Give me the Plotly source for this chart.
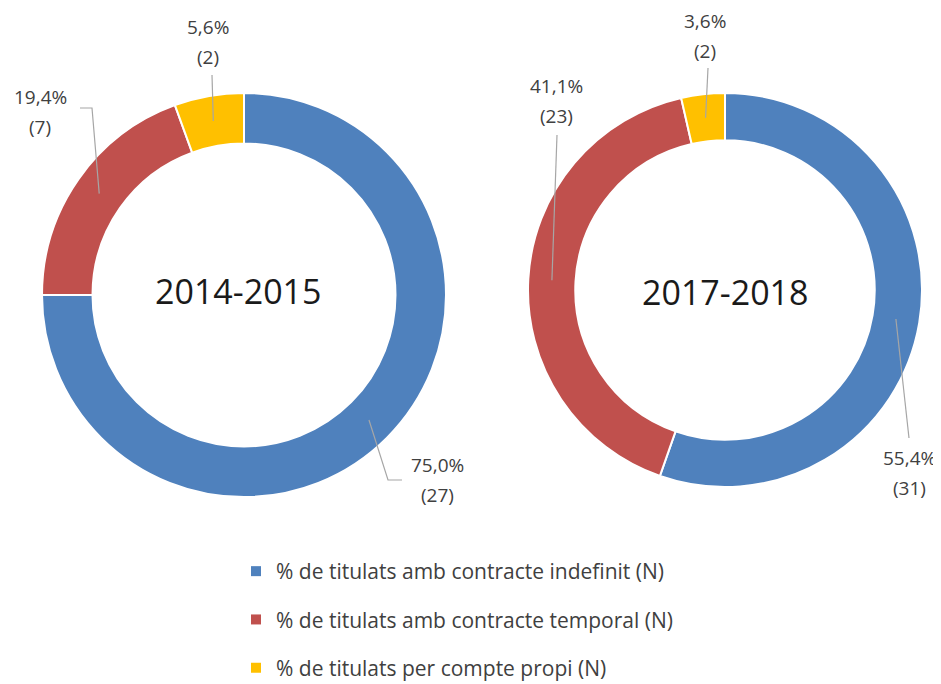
import math
import plotly.graph_objects as go

# ---------------- data ----------------
categories = [
    "% de titulats amb contracte indefinit (N)",
    "% de titulats amb contracte temporal (N)",
    "% de titulats per compte propi (N)",
]
periods = ["2014-2015", "2017-2018"]
values_2014_2015 = [27, 7, 2]
values_2017_2018 = [31, 23, 2]
series = [values_2014_2015, values_2017_2018]

# ---------------- styling / layout ----------------
colors = ["#4F81BD", "#C0504D", "#FFC000"]
WIN_W, WIN_H = 941, 684
OFF = 8  # default page body margin
W, H = WIN_W - OFF, WIN_H - OFF
FONT = "Open Sans"
TXT = "#404040"
LEADER = "#A6A6A6"

# donut geometry in window pixels
donuts = [
    dict(cx=244, cy=295, r=202, hole=0.75),
    dict(cx=725, cy=290, r=197, hole=0.76),
]
# centre title positions (window pixels)
title_pos = [(238, 291), (725, 292)]
# label block centres (window pixels) per donut, per category
label_pos = [
    [(437, 480), (40, 112), (208, 42)],
    [(909, 473), (556, 101), (705, 36)],
]
# leader line points after the ring anchor (window pixels)
leader_pts = [
    [[(388, 480), (402, 480)], [(92, 108), (80, 108)], [(212, 75)]],
    [[(909, 438)], [(557, 135)], [(708, 68)]],
]


def px(x):
    return (x - OFF) / W


def py(y):
    return 1 - (y - OFF) / H


fig = go.Figure()
annotations = []
shapes = []

for k, (vals, d) in enumerate(zip(series, donuts)):
    cx, cy, r = d["cx"], d["cy"], d["r"]
    fig.add_trace(go.Pie(
        labels=categories,
        values=vals,
        hole=d["hole"],
        sort=False,
        direction="clockwise",
        rotation=0,
        textinfo="none",
        hoverinfo="label+value+percent",
        marker=dict(colors=colors, line=dict(color="white", width=2)),
        domain=dict(x=[px(cx - r), px(cx + r)], y=[py(cy + r), py(cy - r)]),
        showlegend=False,
        name=periods[k],
    ))
    tx, ty = title_pos[k]
    annotations.append(dict(
        x=px(tx), y=py(ty), xref="paper", yref="paper",
        text=periods[k], showarrow=False,
        font=dict(family=FONT, size=34, color="#1a1a1a"),
        xanchor="center", yanchor="middle",
    ))
    total = sum(vals)
    cum = 0
    r_mid = r * (1 + d["hole"]) / 2
    for i, v in enumerate(vals):
        frac = (cum + v / 2) / total
        cum += v
        th = 2 * math.pi * frac
        ax, ay = cx + r_mid * math.sin(th), cy - r_mid * math.cos(th)
        pts = [(ax, ay)] + leader_pts[k][i]
        path = "M " + " L ".join(f"{px(x):.5f},{py(y):.5f}" for x, y in pts)
        shapes.append(dict(type="path", path=path, xref="paper", yref="paper",
                           line=dict(color=LEADER, width=1.2)))
        pct = f"{100 * v / total:.1f}".replace(".", ",") + "%"
        lx, ly = label_pos[k][i]
        annotations.append(dict(x=px(lx), y=py(ly - 15), xref="paper", yref="paper",
                                text=pct, showarrow=False,
                                font=dict(family=FONT, size=19, color=TXT),
                                xanchor="center", yanchor="middle"))
        annotations.append(dict(x=px(lx), y=py(ly + 15), xref="paper", yref="paper",
                                text=f"({v})", showarrow=False,
                                font=dict(family=FONT, size=19, color=TXT),
                                xanchor="center", yanchor="middle"))

# legend entries (one per category, own group so spacing can be set)
for i, c in enumerate(categories):
    fig.add_trace(go.Scatter(
        x=[None], y=[None], mode="markers", name=c,
        marker=dict(symbol="square", size=10, color=colors[i]),
        legendgroup=f"g{i}", showlegend=True, hoverinfo="skip",
    ))

fig.update_layout(
    width=W, height=H,
    margin=dict(l=0, r=0, t=0, b=0, autoexpand=False),
    paper_bgcolor="white", plot_bgcolor="white",
    xaxis=dict(visible=False), yaxis=dict(visible=False),
    annotations=annotations, shapes=shapes,
    showlegend=True,
    legend=dict(
        x=px(236), y=py(551), xanchor="left", yanchor="top",
        orientation="v", traceorder="grouped", tracegroupgap=18,
        font=dict(family=FONT, size=21, color=TXT),
        bgcolor="rgba(0,0,0,0)",
    ),
)

fig.write_html("out.html")
